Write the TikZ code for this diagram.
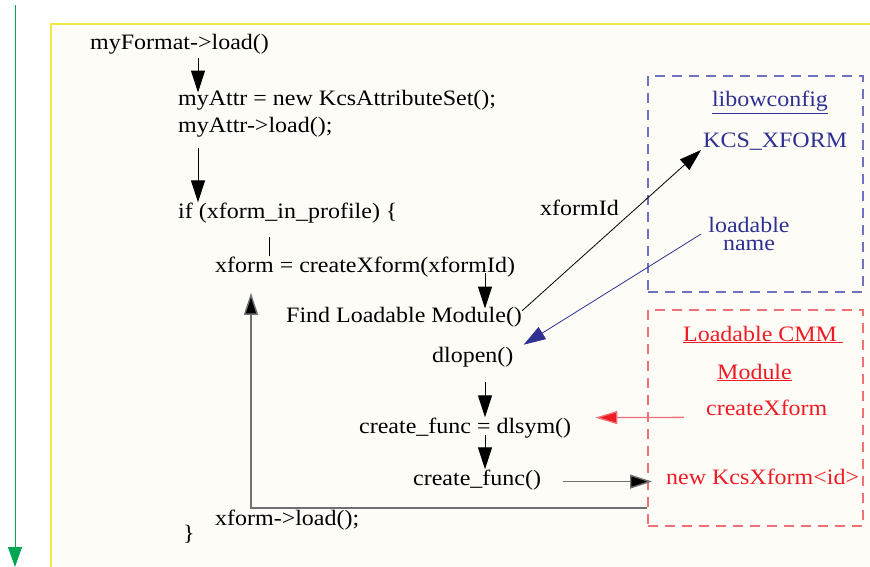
\documentclass[tikz,border=0pt]{standalone}
\usepackage{fontspec}
\setmainfont{Liberation Serif}[FakeStretch=1.09]
\usetikzlibrary{arrows.meta}

\definecolor{cream}{HTML}{FDFCF7}
\definecolor{frameyel}{HTML}{F5E642}
\definecolor{flowgreen}{HTML}{00A651}
\definecolor{libblue}{HTML}{2E3192}
\definecolor{boxblue}{HTML}{6E72C0}
\definecolor{cmmred}{HTML}{ED1C24}
\definecolor{boxred}{HTML}{F07078}
\definecolor{loopgray}{HTML}{707070}

\begin{document}
\begin{tikzpicture}[x=1pt,y=-1pt]
    \tikzstyle{every node}=[inner sep=0pt,font=\fontsize{22}{26}\selectfont]
    \tikzstyle{code}=[anchor=base west]
    \tikzstyle{flow}=[line width=1pt,-{Triangle[length=22pt,width=14pt]}]
    \tikzstyle{dashbox}=[line width=1.3pt,dash pattern=on 10pt off 7pt,
                         minimum width=215pt,minimum height=216pt]

      \useasboundingbox (0,0) rectangle (870,567);
      \fill[cream] (51,24) rectangle (870,567);
      \draw[frameyel,line width=1.2pt] (870,24) -- (51,24) -- (51,567);
      \draw[flowgreen,line width=1pt,-{Triangle[length=20pt,width=14pt]}]
        (15,5) -- (15,567);

      % program steps
      \node[code] (fmt) at (90,50) {myFormat->load()};
      \node[code] (attr) at (178,106) {myAttr = new KcsAttributeSet();};
      \node[code] (attrload) at (178,133) {myAttr->load();};
      \node[code] (ifprof) at (178,218) {if (xform\_in\_profile) \{};
      \node[code] (create) at (215,272) {xform = createXform(xformId)};
      \node[code] (find) at (286,322) {Find Loadable Module()};
      \node[code] (dlopen) at (432,362) {dlopen()};
      \node[code] (dlsym) at (359,433) {create\_func = dlsym()};
      \node[code] (call) at (413,485) {create\_func()};
      \node[code] (xload) at (215,525) {xform->load();};
      \node[code] (close) at (183,540) {\}};
      \node[code] (xid) at (540,215) {xformId};

      % libowconfig
      \node[draw=boxblue,dashbox] (libbox) at (755.5,184) {};
      \node[libblue,anchor=base] (libname) at (770,107) {\underline{libowconfig}};
      \node[libblue,code] (kcs) at (703,147) {KCS\_XFORM};
      \node[libblue,anchor=north,align=center,font=\fontsize{22}{18}\selectfont]
        (loadable) at (749,217) {loadable\\name};

      % loadable module
      \node[draw=boxred,dashbox] (cmmbox) at (755.5,418) {};
      \node[cmmred,code] (cmmtitle) at (683,341) {\underline{Loadable CMM\ }};
      \node[cmmred,code] (module) at (717,379) {\underline{Module}};
      \node[cmmred,code] (cxf) at (706,415) {createXform};
      \node[cmmred,code] (newxf) at (666,484) {new KcsXform<id>};

      \draw[flow] ([xshift=108pt,yshift=-3pt]fmt.south west)
        -- ([xshift=20pt,yshift=-2pt]attr.north west);
      \draw[flow] ([xshift=20pt,yshift=-10pt]attrload.south west)
        -- ([xshift=20pt]ifprof.north west);
      \draw[line width=0.8pt] ([xshift=54pt]create.north west) -- ++(0,-19);
      \draw[flow] ([xshift=270pt,yshift=4pt]create.south west)
        -- ([xshift=199pt,yshift=-2pt]find.north west);
      \draw[flow] ([xshift=53pt,yshift=-15pt]dlopen.south west)
        -- ([xshift=126pt]dlsym.north west);
      \draw[flow] ([xshift=126pt,yshift=3pt]dlsym.south west)
        -- ([xshift=72pt]call.north west);

      \draw[line width=0.8pt,-{Triangle[length=22pt,width=14pt]}]
        ([yshift=6pt]find.east) -- ([xshift=-2pt]kcs.south west);
      \draw[libblue,line width=0.8pt,-{Triangle[length=22pt,width=14pt]}]
        ([xshift=-7pt]loadable.west) -- ([xshift=10pt,yshift=12pt]dlopen.east);
      \draw[boxred,line width=1.3pt,-{Triangle[length=22pt,width=13pt,fill=cmmred]}]
        ([xshift=-22pt,yshift=-10pt]cxf.west) -- ([xshift=24pt,yshift=10pt]dlsym.east);
      \draw[loopgray,line width=1.4pt,shorten <=22pt,shorten >=14pt,
            -{Triangle[length=22pt,width=14pt,fill=black]}]
        ([yshift=-2pt]call.east) -- ([yshift=-2pt]call.east -| newxf.west);
      \draw[loopgray,line width=1.4pt,-{Triangle[length=22pt,width=14pt,fill=black]}]
        ([yshift=-90pt]cmmbox.west) -| ([xshift=36pt,yshift=-16pt]create.south west);
    \end{tikzpicture}
\end{document}
